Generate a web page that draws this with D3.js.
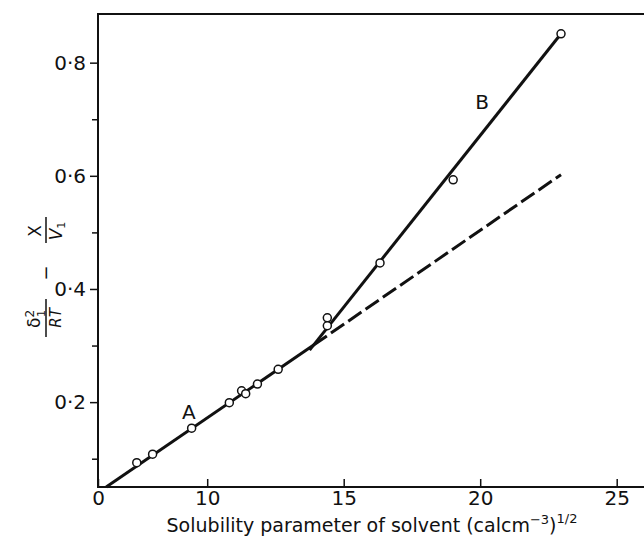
<!DOCTYPE html>
<html>
<head>
<meta charset="utf-8">
<script src="https://cdn.jsdelivr.net/npm/d3@7"></script>
<style>
body { margin: 0; background: #fff; }
text { font-family: "DejaVu Sans", sans-serif; fill: #111; }
</style>
</head>
<body>
<div id="chart"></div>
<script>
// measured points (solubility parameter of solvent, delta^2/RT - chi/V1)
var solventDelta = [7.42, 8.0, 9.43, 10.81, 11.26, 11.41, 11.84, 12.6, 14.4, 14.4, 16.33, 19.01, 22.96];
var paramValue = [0.093, 0.108, 0.154, 0.199, 0.220, 0.215, 0.232, 0.258, 0.349, 0.335, 0.446, 0.593, 0.851];

// fitted lines
var lineAx = [6.3, 13.9];
var lineAy = [0.05, 0.301];
var lineBx = [13.75, 22.96];
var lineBy = [0.292, 0.851];
var dashX = [13.9, 22.96];
var dashY = [0.301, 0.602];

var xTicks = [6, 10, 15, 20, 25];
var xTickLabels = ["0", "10", "15", "20", "25"];
var yTicks = [0.1, 0.2, 0.3, 0.4, 0.5, 0.6, 0.7, 0.8];
var yTickLabels = ["", "0·2", "", "0·4", "", "0·6", "", "0·8"];

var width = 644, height = 539;
var margin = {top: 14, right: 0, bottom: 52, left: 98};

var x = d3.scaleLinear().domain([6, 26]).range([margin.left, width - margin.right]);
var y = d3.scaleLinear().domain([0.05, 0.886]).range([height - margin.bottom, margin.top]);

var svg = d3.select('#chart').append('svg').attr('width', width).attr('height', height);

// frame (right side runs off the picture)
svg.append('path')
    .attr('d', 'M' + (x(26) + 4) + ',' + y(0.886) + 'H' + x(6) + 'V' + y(0.05) + 'H' + (x(26) + 4))
    .attr('fill', 'none')
    .attr('stroke', '#111')
    .attr('stroke-width', 2);

var xAxis = svg.append('g')
    .attr('transform', 'translate(0,' + y(0.05) + ')')
    .call(d3.axisBottom(x).tickValues(xTicks).tickSize(-8).tickPadding(4)
        .tickFormat(function(d, i) { return xTickLabels[i]; }));
xAxis.select('.domain').remove();
xAxis.selectAll('line').attr('stroke', '#111').attr('stroke-width', 1.5);
xAxis.selectAll('text').style('font-size', '20px').attr('fill', '#111');

var yAxis = svg.append('g')
    .attr('transform', 'translate(' + x(6) + ',0)')
    .call(d3.axisLeft(y).tickValues(yTicks).tickSize(8).tickPadding(4)
        .tickFormat(function(d, i) { return yTickLabels[i]; }));
yAxis.select('.domain').remove();
yAxis.selectAll('line').attr('stroke', '#111').attr('stroke-width', 1.5)
    .attr('x2', function(d, i) { return yTickLabels[i] ? -8 : -6; });
yAxis.selectAll('text').style('font-size', '20px').attr('fill', '#111');

var line = d3.line()
    .x(function(d) { return x(d[0]); })
    .y(function(d) { return y(d[1]); });

svg.append('path')
    .attr('d', line(d3.zip(lineAx, lineAy)))
    .attr('fill', 'none').attr('stroke', '#111').attr('stroke-width', 3);

svg.append('path')
    .attr('d', line(d3.zip(lineBx, lineBy)))
    .attr('fill', 'none').attr('stroke', '#111').attr('stroke-width', 3);

svg.append('path')
    .attr('d', line(d3.zip(dashX, dashY)))
    .attr('fill', 'none').attr('stroke', '#111').attr('stroke-width', 3)
    .attr('stroke-dasharray', '16,5');

svg.selectAll('circle')
    .data(d3.zip(solventDelta, paramValue))
    .enter()
    .append('circle')
    .attr('cx', function(d) { return x(d[0]); })
    .attr('cy', function(d) { return y(d[1]); })
    .attr('r', 4)
    .attr('fill', '#fff')
    .attr('stroke', '#111')
    .attr('stroke-width', 1.5);

// line labels
svg.append('text').attr('x', x(9.33)).attr('y', y(0.183))
    .attr('text-anchor', 'middle').attr('dominant-baseline', 'central')
    .style('font-size', '20px').text('A');
svg.append('text').attr('x', x(20.07)).attr('y', y(0.73))
    .attr('text-anchor', 'middle').attr('dominant-baseline', 'central')
    .style('font-size', '20px').text('B');

// x title
var xt = svg.append('text')
    .attr('x', 372).attr('y', 532)
    .attr('text-anchor', 'middle')
    .style('font-size', '19px');
xt.append('tspan').text('Solubility parameter of solvent (calcm');
xt.append('tspan').attr('dy', -8).style('font-size', '13px').text('−3');
xt.append('tspan').attr('dy', 8).text(')');
xt.append('tspan').attr('dy', -9).style('font-size', '13px').text('1/2');

// y title: delta1^2 / RT - X / V1, rotated
var yt = svg.append('g').attr('transform', 'translate(45,275) rotate(-90)');
var num1 = yt.append('text').attr('x', -44).attr('y', -5).attr('text-anchor', 'middle').style('font-size', '17px');
num1.append('tspan').text('δ');
num1.append('tspan').attr('dy', -6).style('font-size', '12px').text('2');
num1.append('tspan').attr('dx', -7).attr('dy', 11).style('font-size', '11px').text('1');
yt.append('line').attr('x1', -62).attr('x2', -24).attr('y1', 1).attr('y2', 1)
    .attr('stroke', '#111').attr('stroke-width', 1.5);
yt.append('text').attr('x', -43).attr('y', 16).attr('text-anchor', 'middle')
    .style('font-size', '15px').style('font-style', 'italic').text('RT');
yt.append('text').attr('x', 2).attr('y', 7).attr('text-anchor', 'middle')
    .style('font-size', '18px').text('−');
yt.append('text').attr('x', 44).attr('y', -4).attr('text-anchor', 'middle').style('font-size', '17px').text('X');
yt.append('line').attr('x1', 32).attr('x2', 58).attr('y1', 1).attr('y2', 1)
    .attr('stroke', '#111').attr('stroke-width', 1.5);
var den2 = yt.append('text').attr('x', 44).attr('y', 17).attr('text-anchor', 'middle')
    .style('font-size', '17px');
den2.append('tspan').style('font-style', 'italic').text('V');
den2.append('tspan').attr('dy', 3).style('font-size', '11px').text('1');
</script>
</body>
</html>
